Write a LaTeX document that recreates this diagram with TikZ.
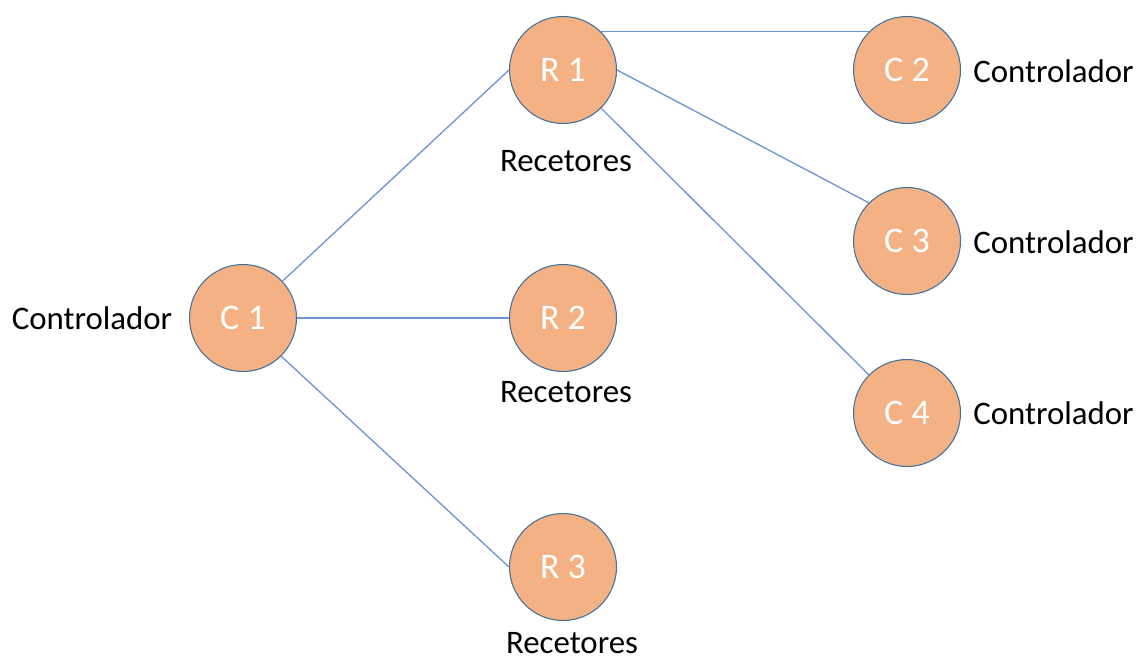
\documentclass[tikz,border=0pt]{standalone}
\usepackage{fontspec}
\setmainfont{Carlito}
\usepackage{xcolor}
\usepackage{tikz}
\definecolor{nodefill}{HTML}{F4B183}
\definecolor{nodeborder}{HTML}{41719C}
\definecolor{linkblue}{HTML}{6F94D6}

\begin{document}
\begin{tikzpicture}[x=0.02cm, y=-0.02cm,
    nodo/.style={circle, draw=nodeborder, line width=0.6pt, fill=nodefill,
        minimum size=2.14cm, inner sep=0pt, text=white,
        font=\fontsize{20.5}{24}\selectfont},
    etiqueta/.style={font=\fontsize{18.7}{22}\selectfont, inner sep=0pt},
    enlace/.style={linkblue, line width=0.75pt}]
        \useasboundingbox[fill=white] (0, 0) rectangle (1141, 659);

        % controlador central
        \node[nodo] (c1) at (243, 318) {C 1};
        \node[etiqueta] (lc1) at (92, 318) {Controlador};

        % recetores
        \node[nodo] (r1) at (563, 70) {R 1};
        \node[nodo] (r2) at (563, 318) {R 2};
        \node[nodo] (r3) at (563, 567) {R 3};
        \node[etiqueta] (lr1) at (566, 161) {Recetores};
        \node[etiqueta] (lr2) at (566, 392) {Recetores};
        \node[etiqueta] (lr3) at (572, 643) {Recetores};

        % controladores de la derecha
        \node[nodo] (c2) at (907, 70) {C 2};
        \node[nodo] (c3) at (907, 241) {C 3};
        \node[nodo] (c4) at (907, 413) {C 4};
        \node[etiqueta, anchor=west] (lc2) at (973, 71) {Controlador};
        \node[etiqueta, anchor=west] (lc3) at (973, 242) {Controlador};
        \node[etiqueta, anchor=west] (lc4) at (973, 413) {Controlador};

        % enlaces
        \draw[enlace] (c1.43) -- (r1.west);
        \draw[enlace] (c1.east) -- (r2.west);
        \draw[enlace] (c1.-45) -- (r3.west);
        \draw[enlace] (r1.45) -- (c2.135);
        \draw[enlace] (r1.east) -- (c3.135);
        \draw[enlace] (r1.-45) -- (c4.135);

    \end{tikzpicture}
\end{document}
